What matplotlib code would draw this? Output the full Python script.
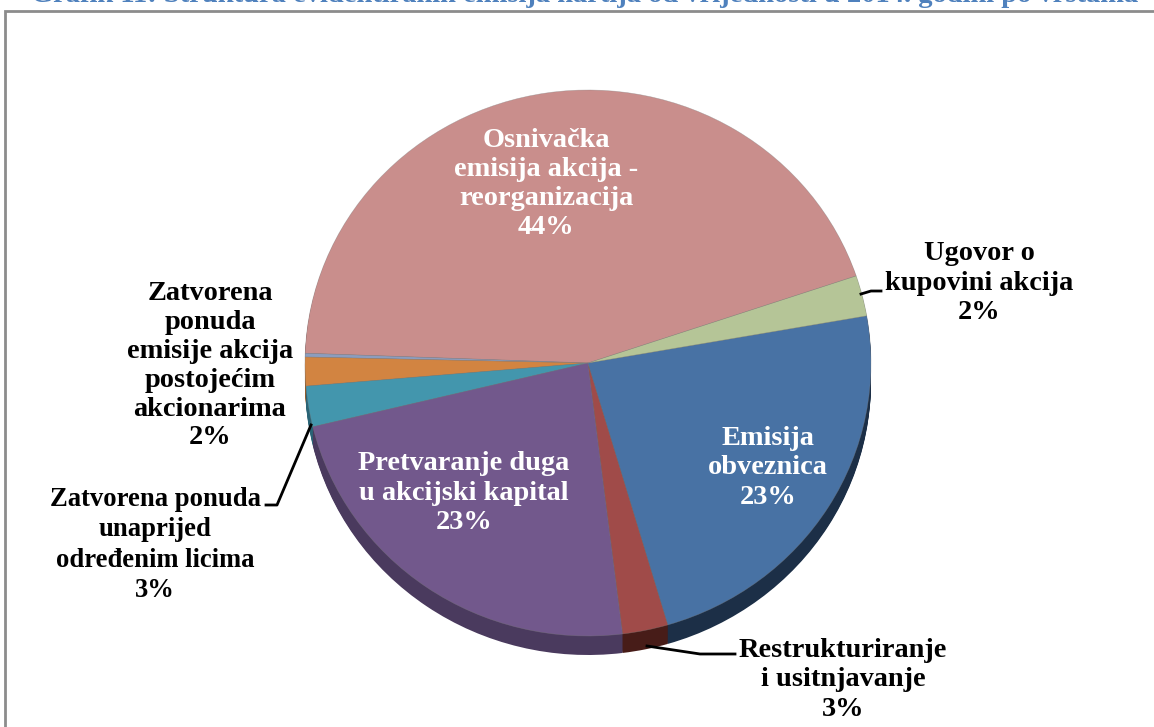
import matplotlib
matplotlib.use("Agg")
import matplotlib.pyplot as plt

W, H = 1154, 727
title = "Grafik 11: Struktura evidentiranih emisija hartija od vrijednosti u 2014. godini po vrstama"
# order: counter-clockwise starting at the pink slice
categories = ["Osnivačka\nemisija akcija -\nreorganizacija", "",
              "Zatvorena\nponuda\nemisije akcija\npostojećim\nakcionarima",
              "Zatvorena ponuda\nunaprijed\nodređenim licima", "Pretvaranje duga\nu akcijski kapital",
              "Restrukturiranje\ni usitnjavanje", "Emisija\nobveznica", "Ugovor o\nkupovini akcija"]
values = [44.25, 0.22, 1.7, 2.4, 23.2, 2.6, 23.2, 2.4]
percent_labels = ["44%", "", "2%", "3%", "23%", "3%", "23%", "2%"]
top_colors = ["#C98E8C", "#8C9DBE", "#D28441", "#4396AD", "#72588C", "#A04B49", "#4872A4", "#B5C597"]
side_colors = ["#8A5F5E", "#5E6B85", "#8F5A2B", "#2A6476", "#4A3A5E", "#471C18", "#1C2F47", "#7C8A64"]
start_angle = 18.6

plt.rcParams["font.family"] = ["Liberation Serif", "DejaVu Serif"]
fig = plt.figure(figsize=(W / 100, H / 100), dpi=100, facecolor="white")

bg = fig.add_axes([0, 0, 1, 1])
bg.set_xlim(0, W)
bg.set_ylim(H, 0)
bg.axis("off")
bg.plot([5, 5, W], [H, 11, 11], color="#8C8C8C", lw=2.0, solid_joinstyle="miter", clip_on=False)
bg.text(585, 2, title, color="#4F81BD", fontsize=20.5, fontweight="bold", ha="center", va="baseline")

# pie axes: ellipse box in pixels
left, right, top, bottom = 305, 871, 90, 636
rx, ry = (right - left) / 2, (bottom - top) / 2
ax = fig.add_axes([left / W, 1 - bottom / H, (right - left) / W, (bottom - top) / H])
depth = 19
for d in range(depth, 0, -1):
    ax.pie(values, colors=side_colors, startangle=start_angle, counterclock=True,
           center=(0, -d / ry), radius=1, wedgeprops=dict(linewidth=0.5, edgecolor="none"))
ax.pie(values, colors=top_colors, startangle=start_angle, counterclock=True,
       center=(0, 0), radius=1, wedgeprops=dict(linewidth=0.4, edgecolor="#7F7F7F80"))
ax.set_aspect("auto")
ax.set_xlim(-1, 1)
ax.set_ylim(-1, 1)
ax.axis("off")
for p in ax.patches:
    p.set_clip_on(False)

over = fig.add_axes([0, 0, 1, 1])
over.set_xlim(0, W)
over.set_ylim(H, 0)
over.axis("off")
over.patch.set_alpha(0)

kw = dict(ha="center", va="center", fontweight="bold")
def label(i, x, y, color, size=20.4, spacing=1.215):
    over.text(x, y, categories[i] + "\n" + percent_labels[i], color=color,
              fontsize=size, linespacing=spacing, **kw)

label(0, 546, 184, "white")
label(7, 979, 283, "black")
label(6, 768, 468, "white")
label(5, 843, 680, "black")
label(4, 464, 493, "white")
label(3, 155, 545, "black", size=19.2, spacing=1.27)
label(2, 210, 366, "black", spacing=1.2)

over.plot([311, 277, 266], [425, 505, 505], color="black", lw=2.0)
over.plot([647, 700, 735], [646, 654, 654], color="black", lw=2.0)
over.plot([861, 871, 881], [294, 291, 291], color="black", lw=2.0)

fig.savefig("out.png", dpi=100, facecolor="white")
